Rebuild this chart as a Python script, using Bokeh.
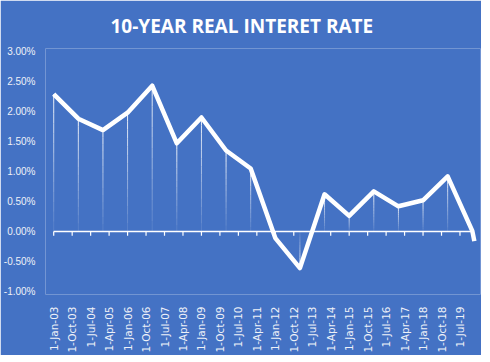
import math
import numpy as np
from bokeh.plotting import figure
from bokeh.models import FixedTicker, PrintfTickFormatter, Range1d, ColumnDataSource
from bokeh.embed import file_html
from bokeh.resources import INLINE

# ---- data ----
dates = ["2003-01-01", "2004-01-01", "2005-01-01", "2006-01-01", "2007-01-01",
         "2008-01-01", "2009-01-01", "2010-01-01", "2011-01-01", "2012-01-01",
         "2013-01-01", "2014-01-01", "2015-01-01", "2016-01-01", "2017-01-01",
         "2018-01-01", "2019-01-01", "2020-01-01", "2020-02-01"]
rates = [2.29, 1.88, 1.69, 1.98, 2.43, 1.47, 1.90, 1.35, 1.05, -0.11,
         -0.61, 0.62, 0.26, 0.67, 0.42, 0.52, 0.92, 0.01, -0.16]
tick_dates = ["2003-01-01", "2003-10-01", "2004-07-01", "2005-04-01", "2006-01-01",
              "2006-10-01", "2007-07-01", "2008-04-01", "2009-01-01", "2009-10-01",
              "2010-07-01", "2011-04-01", "2012-01-01", "2012-10-01", "2013-07-01",
              "2014-04-01", "2015-01-01", "2015-10-01", "2016-07-01", "2017-04-01",
              "2018-01-01", "2018-10-01", "2019-07-01"]
tick_labels = ["1-Jan-03", "1-Oct-03", "1-Jul-04", "1-Apr-05", "1-Jan-06", "1-Oct-06",
               "1-Jul-07", "1-Apr-08", "1-Jan-09", "1-Oct-09", "1-Jul-10", "1-Apr-11",
               "1-Jan-12", "1-Oct-12", "1-Jul-13", "1-Apr-14", "1-Jan-15", "1-Oct-15",
               "1-Jul-16", "1-Apr-17", "1-Jan-18", "1-Oct-18", "1-Jul-19"]
axis_end_date = "2020-01-01"
y_ticks = [-1.0, -0.5, 0.0, 0.5, 1.0, 1.5, 2.0, 2.5, 3.0]
title_text = "10-YEAR  REAL INTERET  RATE"


def month_index(d):
    y, m, _ = d.split("-")
    return (int(y) - 2003) * 12 + (int(m) - 1)


xs = [month_index(d) for d in dates]
tick_x = [month_index(d) for d in tick_dates]

BG = "#4472C4"
LABEL = "#EEF1F8"

p = figure(frame_width=435, frame_height=246,
           x_range=Range1d(-4, 208), y_range=Range1d(-1.05, 3.05),
           min_border_left=38, min_border_right=1, min_border_top=48, min_border_bottom=60,
           output_backend="svg", toolbar_location=None,
           background_fill_color=BG, border_fill_color=BG, outline_line_color=None)

p.title.text = title_text
p.title.align = "left"
p.title.offset = 65
p.title.text_color = "white"
p.title.text_font = "Open Sans"
p.title.text_font_style = "bold"
p.title.text_font_size = "19px"
p.title.standoff = 20

p.xgrid.visible = False
p.ygrid.visible = False

# y axis: labels only
p.yaxis.ticker = FixedTicker(ticks=y_ticks)
p.yaxis.formatter = PrintfTickFormatter(format="%.2f%%")
p.yaxis.axis_line_color = None
p.yaxis.major_tick_line_color = None
p.yaxis.minor_tick_line_color = None
p.yaxis.major_label_text_color = LABEL
p.yaxis.major_label_text_font = "Liberation Sans"
p.yaxis.major_label_text_font_size = "10px"
p.yaxis.major_label_standoff = 4

# x axis at bottom: labels only
xa = p.xaxis[0]
xa.ticker = FixedTicker(ticks=tick_x)
xa.major_label_overrides = {t: l for t, l in zip(tick_x, tick_labels)}
xa.major_label_orientation = math.pi / 2
xa.axis_line_color = None
xa.major_tick_line_color = None
xa.minor_tick_line_color = None
xa.major_label_text_color = LABEL
xa.major_label_text_font = "DejaVu Sans"
xa.major_label_text_font_size = "10.5px"
xa.major_label_standoff = 6

# horizontal axis line crossing at zero, with outward ticks
p.segment(x0=[xs[0]], y0=[0], x1=[month_index(axis_end_date)], y1=[0],
          line_color="white", line_width=1.5)
tick_len = 0.07
p.segment(x0=tick_x, y0=[0] * len(tick_x), x1=tick_x, y1=[-tick_len] * len(tick_x),
          line_color="white", line_width=1.2)

# drop lines with fading (gradient-like) alpha toward the axis
n_seg = 14
x0s, y0s, x1s, y1s, alphas = [], [], [], [], []
for x, v in zip(xs[:-2], rates[:-2]):
    fr = np.linspace(0, 1, n_seg + 1)  # 0 at axis, 1 at point
    for i in range(n_seg):
        x0s.append(x); x1s.append(x)
        y0s.append(v * fr[i]); y1s.append(v * fr[i + 1])
        alphas.append(0.08 + 0.85 * (fr[i] + fr[i + 1]) / 2)
drop_src = ColumnDataSource(dict(x0=x0s, y0=y0s, x1=x1s, y1=y1s, a=alphas))
p.segment("x0", "y0", "x1", "y1", source=drop_src, line_color="white",
          line_alpha="a", line_width=1)

# main line
p.line(xs, rates, line_color="white", line_width=4.5, line_join="round")

open("out.html", "w").write(file_html(p, INLINE))
